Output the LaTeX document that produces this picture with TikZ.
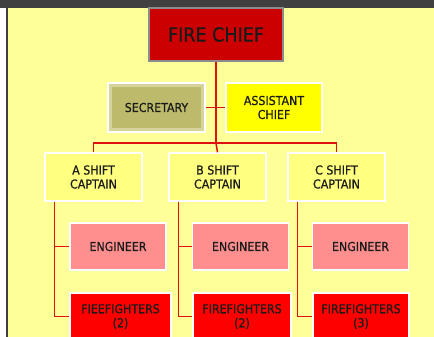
\documentclass[tikz,border=0pt]{standalone}
\usepackage{fontspec}
\setmainfont{DejaVu Sans Condensed}
\newfontfamily\boxfont[FakeBold=0.5]{DejaVu Sans Condensed}
\usetikzlibrary{positioning}

\definecolor{frame}{HTML}{404040}
\definecolor{slide}{HTML}{FFFF99}
\definecolor{chieffill}{HTML}{CC0000}
\definecolor{chiefedge}{HTML}{8C8C8C}
\definecolor{secedge}{HTML}{D6D49C}
\definecolor{secface}{HTML}{BDBB6B}
\definecolor{asstfill}{HTML}{FFFF00}
\definecolor{capfill}{HTML}{FFFF80}
\definecolor{engfill}{HTML}{FF8F8F}
\definecolor{fffill}{HTML}{FF0000}
\definecolor{linkred}{HTML}{E01010}
\definecolor{textdark}{HTML}{1A1A1A}

\tikzset{
  box/.style={draw=white, line width=1.5pt, align=center, inner sep=0pt,
    text=textdark, font=\boxfont\fontsize{12.3}{14}\selectfont},
  chiefbox/.style={box, draw=chiefedge, fill=chieffill, minimum width=134pt,
    minimum height=53pt, font=\boxfont\fontsize{19.5}{24}\selectfont},
  secbox/.style={box, fill=secedge, minimum width=97pt, minimum height=49pt,
    path picture={\fill[secface] ([shift={(4pt,-4pt)}]path picture bounding box.north west)
      rectangle ([shift={(-4pt,4pt)}]path picture bounding box.south east);}},
  asstbox/.style={box, fill=asstfill, minimum width=96pt, minimum height=49pt},
  capbox/.style={box, fill=capfill, minimum width=97pt, minimum height=48pt},
  engbox/.style={box, fill=engfill, minimum width=96pt, minimum height=47pt},
  ffbox/.style={box, fill=fffill, minimum height=47pt},
  link/.style={draw=linkred, line width=1.5pt},
}

\begin{document}
\begin{tikzpicture}[x=1pt,y=-1pt]
  \useasboundingbox (0,0) rectangle (434,337);
  \clip (0,0) rectangle (434,337);
  % slide
  \fill[white] (0,0) rectangle (434,337);
  \fill[slide] (8,8) rectangle (434,337);
  \fill[frame] (6,8) rectangle (8,337);
  \fill[frame] (0,0) rectangle (434,8);

  % boxes
  \node[chiefbox] (chief) at (216,34.5) {FIRE CHIEF};
  \node[secbox] (sec) at (156.5,107.5) {SECRETARY};
  \node[asstbox] (asst) at (274,107.5) {ASSISTANT\\CHIEF};

  \node[capbox] (capA) at (93.5,177) {A SHIFT\\CAPTAIN};
  \node[capbox] (capB) at (217.5,177) {B SHIFT\\CAPTAIN};
  \node[capbox] (capC) at (336.5,177) {C SHIFT\\CAPTAIN};

  \node[engbox] (engA) at (118,246.5) {ENGINEER};
  \node[engbox] (engB) at (240.5,246.5) {ENGINEER};
  \node[engbox] (engC) at (360.5,246.5) {ENGINEER};

  \node[ffbox, minimum width=101pt] (ffA) at (120.5,316.5) {FIEEFIGHTERS\\(2)};
  \node[ffbox, minimum width=98pt] (ffB) at (242,316.5) {FIREFIGHTERS\\(2)};
  \node[ffbox, minimum width=96pt] (ffC) at (361,316.5) {FIREFIGHTERS\\(3)};

  % connectors
  \coordinate (hub) at (216,143);
  \draw[link] (chief) -- (hub);
  \draw[link] (sec) -- (asst);
  \draw[link] (capA.north) |- (hub) -| (capC.north);
  \draw[link] (hub) -- (capB.north);
  \foreach \s in {A,B,C} {
    \draw[link] ([xshift=10pt]cap\s.south west) |- (eng\s.west);
    \draw[link] ([xshift=10pt]cap\s.south west) |- (ff\s.west);
  }
\end{tikzpicture}
\end{document}
